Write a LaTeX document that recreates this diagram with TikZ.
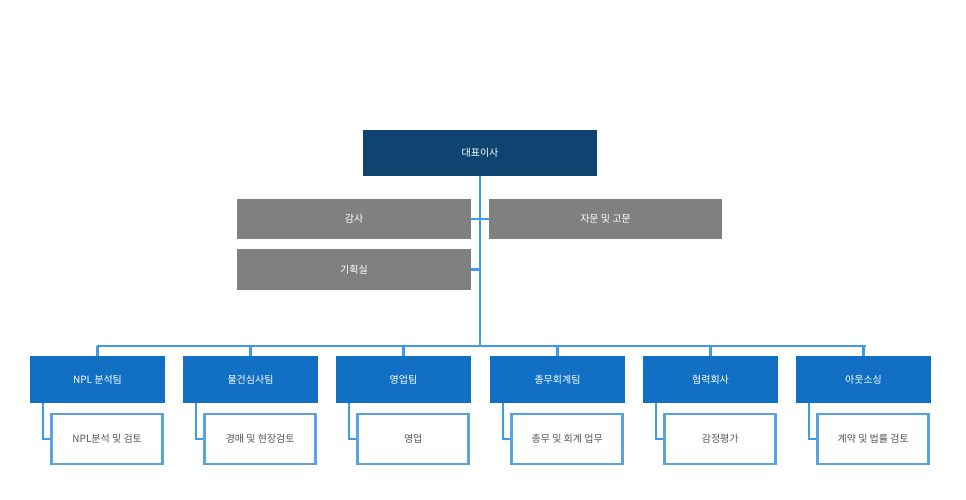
\documentclass[tikz,border=0pt]{standalone}
\usepackage{fontspec}
\setmainfont{Noto Sans CJK KR}
\definecolor{dk}{HTML}{0F4470}
\definecolor{gr}{HTML}{808080}
\definecolor{tb}{HTML}{1170C4}
\definecolor{ln}{HTML}{3D9BE9}
\definecolor{sb}{HTML}{5BA3E0}
\definecolor{tx}{HTML}{555555}
\begin{document}
\begin{tikzpicture}[x=1pt,y=-1pt,
 box/.style={minimum height=#1, inner sep=0pt, font=\fontsize{10}{12}\selectfont, text=white},
 conn/.style={draw=ln, line width=2.5pt}]
\useasboundingbox (0,0) rectangle (966,500);
\fill[white] (0,0) rectangle (966,500);
\node[box=46pt, fill=dk, minimum width=234pt] (ceo) at (480,153) {대표이사};
\node[box=40pt, fill=gr, minimum width=234pt] (gam) at (354,219) {감사};
\node[box=40pt, fill=gr, minimum width=233pt] (ja) at (605.5,219) {자문 및 고문};
\node[box=41pt, fill=gr, minimum width=234pt] (gi) at (354,269.5) {기획실};
\coordinate (bus) at (480,346);
\draw[conn] (ceo.south) -- (bus);
\draw[conn] (gam.east) -- (ja.west);
\draw[conn] (gi.east) -- (gi.east -| bus);
\draw[conn] (97,346) -- (866,346);
\foreach \i/\cx/\t/\s in {1/97.5/NPL 분석팀/NPL분석 및 검토, 2/250.5/물건심사팀/경매 및 현장검토, 3/403.5/영업팀/영업, 4/557.5/총무회계팀/총무 및 회계 업무, 5/710.5/협력회사/감정평가, 6/863.5/아웃소싱/계약 및 법률 검토}{
 \draw[conn] (\cx,346) -- (\cx,356);
 \node[box=47pt, fill=tb, minimum width=135pt] (t\i) at (\cx,379.5) {\t};
 \node[box=50pt, draw=sb, line width=2.5pt, fill=white, minimum width=111pt, text=tx, anchor=east] (s\i) at ([xshift=-1.25pt]t\i.east |- 0,439) {\s};
 \draw[conn] ([xshift=13pt]t\i.south west) |- (s\i.west);
}
\end{tikzpicture}
\end{document}
